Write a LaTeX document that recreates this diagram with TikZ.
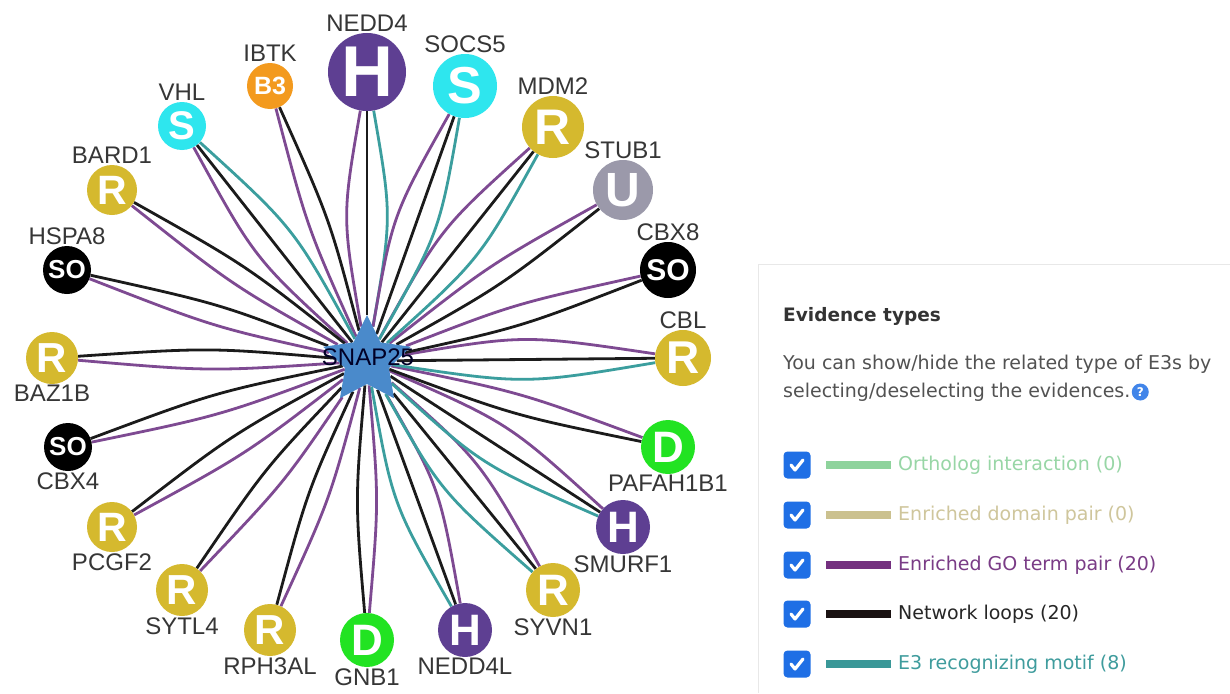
\documentclass[tikz,border=0pt]{standalone}
\usepackage{fontspec}
\setmainfont{Liberation Sans}
\newfontfamily\legendfont{DejaVu Sans}
\usetikzlibrary{shapes.geometric,calc}
\pgfdeclarelayer{backdrop}
\pgfdeclarelayer{edges}
\pgfsetlayers{backdrop,edges,main}

% node fills
\definecolor{cHect}{HTML}{5E3F92}
\definecolor{cBtb}{HTML}{F39A1E}
\definecolor{cSocs}{HTML}{2EE6EE}
\definecolor{cRing}{HTML}{D5B92E}
\definecolor{cUbox}{HTML}{9B99AA}
\definecolor{cDdb}{HTML}{22E322}
\definecolor{cStar}{HTML}{4A8ACB}
% edge colours
\definecolor{ePurple}{HTML}{7E4A92}
\definecolor{eBlack}{HTML}{1B1B1B}
\definecolor{eTeal}{HTML}{3B9E9E}
\definecolor{labelGray}{HTML}{363636}
% legend colours
\definecolor{cbBlue}{HTML}{1F6FE5}
\definecolor{lgGreen}{HTML}{8ED39C}
\definecolor{lgGreenT}{HTML}{98D6A6}
\definecolor{lgTan}{HTML}{CBC18F}
\definecolor{lgTanT}{HTML}{CFC69C}
\definecolor{lgPurple}{HTML}{74307F}
\definecolor{lgPurpleT}{HTML}{7A3C86}
\definecolor{lgBlack}{HTML}{1A1212}
\definecolor{lgTeal}{HTML}{3A9898}
\definecolor{lgTealT}{HTML}{3F9C9D}
\definecolor{panelLine}{HTML}{E8E8E8}

% two parallel links (GO pair, network loop) and three links (plus motif)
\newcommand\twolinks[1]{%
  \draw[epur] (hub) .. controls ($(hub)!0.5!(#1)!12pt!90:(#1)$) .. (#1);
  \draw[eblk] (hub) .. controls ($(hub)!0.5!(#1)!12pt!-90:(#1)$) .. (#1);}
\newcommand\threelinks[1]{%
  \draw[epur] (hub) .. controls ($(hub)!0.5!(#1)!25pt!90:(#1)$) .. (#1);
  \draw[eblk] (hub) -- (#1);
  \draw[etea] (hub) .. controls ($(hub)!0.5!(#1)!25pt!-90:(#1)$) .. (#1);}

\begin{document}
\begin{tikzpicture}[x=1pt,y=-1pt,
  e3/.style n args={3}{circle, inner sep=0pt, fill=#1, minimum size=#2,
    text=white, font=\bfseries\fontsize{#3}{#3}\selectfont},
  glabel/.style={font=\fontsize{24}{24}\selectfont, text=labelGray, inner sep=1pt},
  label distance=0pt,
  epur/.style={draw=ePurple, line width=2.8pt},
  eblk/.style={draw=eBlack, line width=2.8pt},
  etea/.style={draw=eTeal, line width=2.8pt},
  legtext/.style={font=\legendfont\fontsize{19}{19}\selectfont, anchor=west, inner sep=0pt},
  checkbox/.style={rectangle, rounded corners=4pt, fill=cbBlue, minimum size=27pt, inner sep=0pt},
  tick/.style={draw=white, line width=3.2pt, line cap=round, line join=round},
  legbar/.style={rectangle, minimum width=65pt, minimum height=8pt, inner sep=0pt},
]
\useasboundingbox (0,0) rectangle (1230,693);
\begin{pgfonlayer}{backdrop}
  \fill[white] (0,0) rectangle (1230,693);
\end{pgfonlayer}

% ---------- hub ----------
\node[star, star points=5, star point ratio=2.0, minimum size=92pt, inner sep=0pt,
      fill=cStar] (hub) at (367,361) {};
\node[font=\fontsize{24}{24}\selectfont, text=black!85!blue, inner sep=0pt] (hubname) at (368,357) {SNAP25};

% ---------- E3 ligases ----------
\node[e3={cHect}{78pt}{72}, label={[glabel]above:NEDD4}] (nedd4) at (367,72) {H};
\node[e3={cBtb}{46pt}{25}, label={[glabel]above:IBTK}] (ibtk) at (270,86) {B3};
\node[e3={cSocs}{48pt}{40}, label={[glabel]above:VHL}] (vhl) at (182,126) {S};
\node[e3={cRing}{50pt}{41}, label={[glabel]above:BARD1}] (bard1) at (112,190) {R};
\node[e3={black}{48pt}{26}, label={[glabel]above:HSPA8}] (hspa8) at (67,270) {SO};
\node[e3={cRing}{52pt}{42}, label={[glabel]below:BAZ1B}] (baz1b) at (52,358) {R};
\node[e3={black}{48pt}{26}, label={[glabel]below:CBX4}] (cbx4) at (68,447) {SO};
\node[e3={cRing}{50pt}{41}, label={[glabel]below:PCGF2}] (pcgf2) at (112,527) {R};
\node[e3={cRing}{52pt}{42}, label={[glabel]below:SYTL4}] (sytl4) at (182,590) {R};
\node[e3={cRing}{52pt}{42}, label={[glabel]below:RPH3AL}] (rph3al) at (270,630) {R};
\node[e3={cDdb}{54pt}{44}, label={[glabel]below:GNB1}] (gnb1) at (367,640) {D};
\node[e3={cHect}{54pt}{44}, label={[glabel]below:NEDD4L}] (nedd4l) at (465,630) {H};
\node[e3={cRing}{54pt}{44}, label={[glabel]below:SYVN1}] (syvn1) at (553,590) {R};
\node[e3={cHect}{54pt}{44}, label={[glabel]below:SMURF1}] (smurf1) at (623,527) {H};
\node[e3={cDdb}{54pt}{44}, label={[glabel]below:PAFAH1B1}] (pafah1b1) at (668,447) {D};
\node[e3={cRing}{56pt}{46}, label={[glabel]above:CBL}] (cbl) at (683,358) {R};
\node[e3={black}{56pt}{30}, label={[glabel]above:CBX8}] (cbx8) at (668,270) {SO};
\node[e3={cUbox}{60pt}{48}, label={[glabel]above:STUB1}] (stub1) at (623,190) {U};
\node[e3={cRing}{62pt}{50}, label={[glabel]above:MDM2}] (mdm2) at (553,127) {R};
\node[e3={cSocs}{64pt}{52}, label={[glabel]above:SOCS5}] (socs5) at (465,86) {S};

% ---------- evidence links ----------
\begin{pgfonlayer}{edges}
  \threelinks{nedd4}
  \twolinks{ibtk}
  \threelinks{vhl}
  \twolinks{bard1}
  \twolinks{hspa8}
  \twolinks{baz1b}
  \twolinks{cbx4}
  \twolinks{pcgf2}
  \twolinks{sytl4}
  \twolinks{rph3al}
  \twolinks{gnb1}
  \threelinks{nedd4l}
  \threelinks{syvn1}
  \threelinks{smurf1}
  \twolinks{pafah1b1}
  \threelinks{cbl}
  \twolinks{cbx8}
  \twolinks{stub1}
  \threelinks{mdm2}
  \threelinks{socs5}
\end{pgfonlayer}

% ---------- legend panel ----------
\draw[panelLine, line width=1pt] (758,693) -- (758,264) -- (1230,264);
\node[legtext, font=\legendfont\bfseries\fontsize{18.5}{18.5}\selectfont, text=black!80] (evtitle) at (783,316) {Evidence types};
\node[legtext, text=black!68] (evline1) at (783,364) {You can show/hide the related type of E3s by};
\node[legtext, text=black!68] (evline2) at (783,392) {selecting/deselecting the evidences.};
\node[circle, fill=cbBlue!85!white, minimum size=17pt, inner sep=0pt, text=white,
      font=\legendfont\bfseries\fontsize{12}{12}\selectfont, anchor=west] (qmark) at ([xshift=1pt]evline2.east) {?};

\foreach \i/\yy/\bc/\tc/\txt in {
    1/465/lgGreen/lgGreenT/Ortholog interaction (0),
    2/515/lgTan/lgTanT/Enriched domain pair (0),
    3/565/lgPurple/lgPurpleT/Enriched GO term pair (20),
    4/614/lgBlack/black!85/Network loops (20),
    5/664/lgTeal/lgTealT/E3 recognizing motif (8)} {
  \node[checkbox] (cb\i) at (797,\yy) {};
  \draw[tick] (cb\i.center) ++(-6,0) -- ++(4,5) -- ++(8,-10);
  \node[legbar, fill=\bc] (bar\i) at (858.5,\yy) {};
  \node[legtext, text=\tc] (lt\i) at (898,\yy) {\txt};
}
\end{tikzpicture}
\end{document}
